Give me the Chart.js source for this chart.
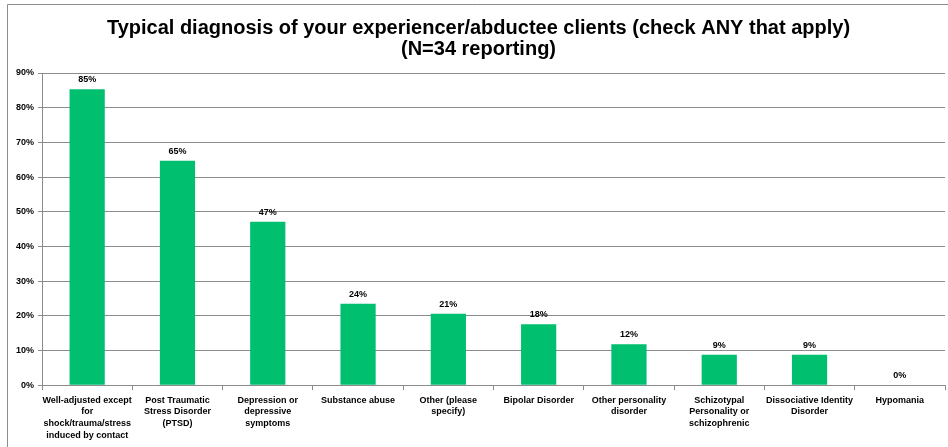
<!DOCTYPE html>
<html>
<head>
<meta charset="utf-8">
<script src="https://cdn.jsdelivr.net/npm/chart.js@4/dist/chart.umd.min.js"></script>
<style>
  html, body { margin: 0; padding: 0; background: #fff; }
  #wrap { width: 948px; height: 447px; position: relative; }
</style>
</head>
<body>
<div id="wrap"><canvas id="c"></canvas></div>
<script>
// Diagnosis categories (multi-line axis labels)
const categories = [
  ["Well-adjusted except", "for", "shock/trauma/stress", "induced by contact"],
  ["Post Traumatic", "Stress Disorder", "(PTSD)"],
  ["Depression or", "depressive", "symptoms"],
  ["Substance abuse"],
  ["Other (please", "specify)"],
  ["Bipolar Disorder"],
  ["Other personality", "disorder"],
  ["Schizotypal", "Personality or", "schizophrenic"],
  ["Dissociative Identity", "Disorder"],
  ["Hypomania"]
];
// Share of the 34 reporting therapists, in percent
const percentages = [85.3, 64.7, 47.1, 23.5, 20.6, 17.6, 11.8, 8.8, 8.8, 0];
// Y axis range, in percent
const yMin = 0, yMax = 90, yStep = 10;

const FONT = "'Liberation Sans', Arial, sans-serif";

// Value labels above each bar
const valueLabels = {
  id: 'valueLabels',
  afterDatasetsDraw(chart) {
    const { ctx } = chart;
    const meta = chart.getDatasetMeta(0);
    ctx.save();
    ctx.font = "bold 9px " + FONT;
    ctx.fillStyle = '#000';
    ctx.textAlign = 'center';
    ctx.textBaseline = 'bottom';
    meta.data.forEach((bar, i) => {
      ctx.fillText(Math.round(percentages[i]) + '%', bar.x, bar.y - 5);
    });
    ctx.restore();
  }
};

// Frame edges along the top and left of the chart
const frame = {
  id: 'frame',
  beforeDraw(chart) {
    const { ctx, width, height } = chart;
    ctx.save();
    ctx.fillStyle = '#fff';
    ctx.fillRect(0, 0, width, height);
    ctx.strokeStyle = '#8c8c8c';
    ctx.lineWidth = 1;
    ctx.beginPath();
    ctx.moveTo(7.5, height);
    ctx.lineTo(7.5, 4.5);
    ctx.lineTo(width, 4.5);
    ctx.stroke();
    ctx.restore();
  }
};

new Chart(document.getElementById('c'), {
  type: 'bar',
  data: {
    labels: categories,
    datasets: [{
      data: percentages,
      backgroundColor: '#00bf6f',
      borderWidth: 0,
      barPercentage: 0.39,
      categoryPercentage: 1.0
    }]
  },
  options: {
    responsive: true,
    maintainAspectRatio: false,
    animation: false,
    layout: { padding: { left: 12, right: 3, top: 6, bottom: 2 } },
    plugins: {
      legend: { display: false },
      tooltip: { enabled: false },
      title: {
        display: true,
        text: ["Typical diagnosis of your experiencer/abductee clients (check ANY that apply)", "(N=34 reporting)"],
        color: '#000',
        font: { family: FONT, size: 20, weight: 'bold', lineHeight: 1.05 },
        padding: { top: 12, bottom: 13 }
      }
    },
    scales: {
      x: {
        offset: true,
        border: { color: '#8c8c8c', width: 1 },
        grid: { offset: true, drawOnChartArea: false, drawTicks: true, tickLength: 5, color: '#8c8c8c' },
        ticks: {
          color: '#000',
          maxRotation: 0,
          autoSkip: false,
          padding: 4,
          font: { family: FONT, size: 9, weight: 'bold', lineHeight: 1.3 }
        }
      },
      y: {
        min: yMin,
        max: yMax,
        border: { color: '#8c8c8c', width: 1 },
        grid: { color: '#8c8c8c', lineWidth: 1, drawTicks: true, tickLength: 4 },
        ticks: {
          stepSize: yStep,
          color: '#000',
          padding: 4,
          font: { family: FONT, size: 9, weight: 'bold' },
          callback: v => v + '%'
        }
      }
    }
  },
  plugins: [frame, valueLabels]
});
</script>
</body>
</html>
